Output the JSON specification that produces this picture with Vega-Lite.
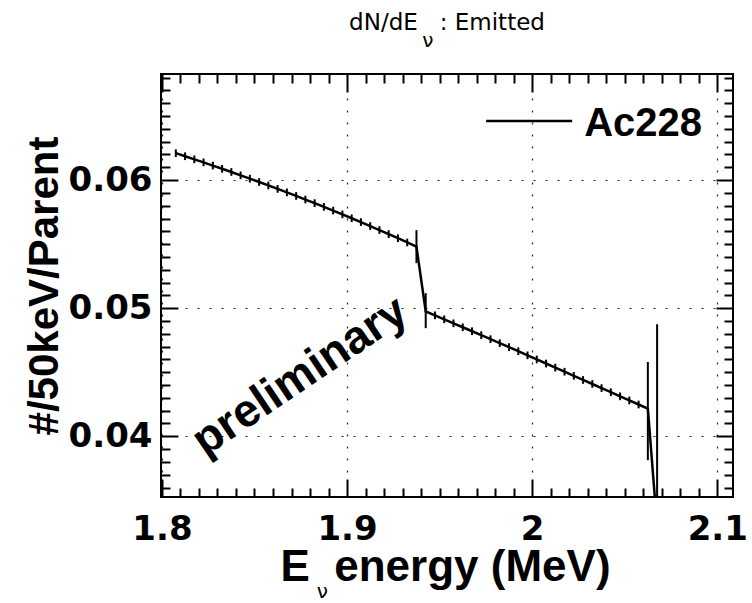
{
  "$schema": "https://vega.github.io/schema/vega-lite/v6.json",
  "width": 572,
  "height": 423,
  "autosize": {"type": "none"},
  "padding": {"left": 161, "top": 74, "right": 19, "bottom": 106},
  "background": "white",
  "config": {"view": {"stroke": "black", "strokeWidth": 2}, "font": "DejaVu Sans"},
  "title": {
    "text": "dN/dE\u00a0\u00a0\u00a0: Emitted",
    "subtitle": "ν\u00a0\u00a0\u00a0\u00a0\u00a0\u00a0\u200b",
    "fontSize": 23,
    "font": "DejaVu Sans",
    "fontWeight": "normal",
    "color": "black",
    "subtitleFontSize": 20,
    "subtitleFont": "DejaVu Sans",
    "subtitleColor": "black",
    "subtitlePadding": -4,
    "anchor": "middle",
    "frame": "group",
    "offset": 22
  },
  "data": {
    "values": [
      {"E": 1.8075, "N": 0.06210, "lo": 0.06180, "hi": 0.06240},
      {"E": 1.8125, "N": 0.06186, "lo": 0.06156, "hi": 0.06216},
      {"E": 1.8175, "N": 0.06162, "lo": 0.06132, "hi": 0.06192},
      {"E": 1.8225, "N": 0.06138, "lo": 0.06108, "hi": 0.06168},
      {"E": 1.8275, "N": 0.06113, "lo": 0.06083, "hi": 0.06143},
      {"E": 1.8325, "N": 0.06088, "lo": 0.06058, "hi": 0.06118},
      {"E": 1.8375, "N": 0.06063, "lo": 0.06033, "hi": 0.06093},
      {"E": 1.8425, "N": 0.06037, "lo": 0.06007, "hi": 0.06067},
      {"E": 1.8475, "N": 0.06011, "lo": 0.05981, "hi": 0.06041},
      {"E": 1.8525, "N": 0.05985, "lo": 0.05955, "hi": 0.06015},
      {"E": 1.8575, "N": 0.05958, "lo": 0.05928, "hi": 0.05988},
      {"E": 1.8625, "N": 0.05931, "lo": 0.05901, "hi": 0.05961},
      {"E": 1.8675, "N": 0.05904, "lo": 0.05874, "hi": 0.05934},
      {"E": 1.8725, "N": 0.05876, "lo": 0.05846, "hi": 0.05906},
      {"E": 1.8775, "N": 0.05848, "lo": 0.05818, "hi": 0.05878},
      {"E": 1.8825, "N": 0.05820, "lo": 0.05790, "hi": 0.05850},
      {"E": 1.8875, "N": 0.05791, "lo": 0.05761, "hi": 0.05821},
      {"E": 1.8925, "N": 0.05762, "lo": 0.05732, "hi": 0.05792},
      {"E": 1.8975, "N": 0.05732, "lo": 0.05702, "hi": 0.05762},
      {"E": 1.9025, "N": 0.05702, "lo": 0.05672, "hi": 0.05732},
      {"E": 1.9075, "N": 0.05672, "lo": 0.05642, "hi": 0.05702},
      {"E": 1.9125, "N": 0.05641, "lo": 0.05611, "hi": 0.05671},
      {"E": 1.9175, "N": 0.05610, "lo": 0.05580, "hi": 0.05640},
      {"E": 1.9225, "N": 0.05578, "lo": 0.05548, "hi": 0.05608},
      {"E": 1.9275, "N": 0.05546, "lo": 0.05516, "hi": 0.05576},
      {"E": 1.9325, "N": 0.05513, "lo": 0.05483, "hi": 0.05543},
      {"E": 1.9375, "N": 0.05480, "lo": 0.05352, "hi": 0.05609},
      {"E": 1.9425, "N": 0.04975, "lo": 0.04844, "hi": 0.05117},
      {"E": 1.9475, "N": 0.04944, "lo": 0.04914, "hi": 0.04974},
      {"E": 1.9525, "N": 0.04913, "lo": 0.04883, "hi": 0.04943},
      {"E": 1.9575, "N": 0.04882, "lo": 0.04852, "hi": 0.04912},
      {"E": 1.9625, "N": 0.04851, "lo": 0.04821, "hi": 0.04881},
      {"E": 1.9675, "N": 0.04820, "lo": 0.04790, "hi": 0.04850},
      {"E": 1.9725, "N": 0.04789, "lo": 0.04759, "hi": 0.04819},
      {"E": 1.9775, "N": 0.04758, "lo": 0.04728, "hi": 0.04788},
      {"E": 1.9825, "N": 0.04727, "lo": 0.04697, "hi": 0.04757},
      {"E": 1.9875, "N": 0.04696, "lo": 0.04666, "hi": 0.04726},
      {"E": 1.9925, "N": 0.04664, "lo": 0.04634, "hi": 0.04694},
      {"E": 1.9975, "N": 0.04632, "lo": 0.04602, "hi": 0.04662},
      {"E": 2.0025, "N": 0.04600, "lo": 0.04570, "hi": 0.04630},
      {"E": 2.0075, "N": 0.04568, "lo": 0.04538, "hi": 0.04598},
      {"E": 2.0125, "N": 0.04536, "lo": 0.04506, "hi": 0.04566},
      {"E": 2.0175, "N": 0.04504, "lo": 0.04474, "hi": 0.04534},
      {"E": 2.0225, "N": 0.04472, "lo": 0.04442, "hi": 0.04502},
      {"E": 2.0275, "N": 0.04440, "lo": 0.04410, "hi": 0.04470},
      {"E": 2.0325, "N": 0.04408, "lo": 0.04378, "hi": 0.04438},
      {"E": 2.0375, "N": 0.04376, "lo": 0.04346, "hi": 0.04406},
      {"E": 2.0425, "N": 0.04344, "lo": 0.04314, "hi": 0.04374},
      {"E": 2.0475, "N": 0.04312, "lo": 0.04282, "hi": 0.04342},
      {"E": 2.0525, "N": 0.04280, "lo": 0.04250, "hi": 0.04310},
      {"E": 2.0575, "N": 0.04248, "lo": 0.04218, "hi": 0.04278},
      {"E": 2.0625, "N": 0.04216, "lo": 0.03813, "hi": 0.04580},
      {"E": 2.0675, "N": 0.03300, "lo": 0.01700, "hi": 0.04875}
    ]
  },
  "layer": [
    {
      "mark": {"type": "line", "color": "black", "strokeWidth": 2.5, "clip": true},
      "encoding": {
        "x": {
          "field": "E", "type": "quantitative",
          "scale": {"domain": [1.7995, 2.1085], "nice": false, "zero": false},
          "axis": {
            "orient": "bottom", "values": [1.8, 1.9, 2, 2.1], "format": "~g",
            "ticks": false,
            "labelFontSize": 34, "labelFont": "DejaVu Sans", "labelFontWeight": "bold", "labelColor": "black",
            "labelPadding": 15, "labelFlush": false, "labelOverlap": false, "labelBaseline": "top",
            "domain": false,
            "grid": true, "gridDash": [2, 10], "gridColor": "#222222", "gridWidth": 1.2,
            "title": "E\u00a0\u00a0energy (MeV)", "titleFontSize": 44, "titleFont": "Liberation Sans", "titleFontWeight": "bold", "titleColor": "black",
            "titleBaseline": "alphabetic", "titleAlign": "center", "titleX": 284, "titleY": 83
          }
        },
        "y": {
          "field": "N", "type": "quantitative",
          "scale": {"domain": [0.03526, 0.06828], "nice": false, "zero": false},
          "axis": {
            "orient": "left", "values": [0.04, 0.05, 0.06], "format": ".2f",
            "ticks": false,
            "labelFontSize": 34, "labelFont": "DejaVu Sans", "labelFontWeight": "bold", "labelColor": "black",
            "labelPadding": 9, "labelFlush": false, "labelOverlap": false, "labelBaseline": "middle",
            "domain": false,
            "grid": true, "gridDash": [2, 10], "gridColor": "#222222", "gridWidth": 1.2,
            "title": "#/50keV/Parent", "titleFontSize": 42, "titleFont": "Liberation Sans", "titleFontWeight": "bold", "titleColor": "black",
            "titleAngle": -90, "titleBaseline": "alphabetic", "titleAlign": "center", "titleX": -104, "titleY": 211.5
          }
        }
      }
    },
    {
      "mark": {"type": "rule", "color": "black", "strokeWidth": 2, "clip": true},
      "encoding": {
        "x": {
          "field": "E", "type": "quantitative",
          "scale": {"domain": [1.7995, 2.1085], "nice": false, "zero": false},
          "axis": {
            "orient": "bottom", "ticks": true,
            "values": [1.81, 1.82, 1.83, 1.84, 1.85, 1.86, 1.87, 1.88, 1.89, 1.91, 1.92, 1.93, 1.94, 1.95, 1.96, 1.97, 1.98, 1.99, 2.01, 2.02, 2.03, 2.04, 2.05, 2.06, 2.07, 2.08, 2.09],
            "tickSize": -9, "tickWidth": 2, "tickColor": "black",
            "labels": false, "domain": false, "grid": false, "title": null
          }
        },
        "y": {
          "field": "lo", "type": "quantitative",
          "scale": {"domain": [0.03526, 0.06828], "nice": false, "zero": false},
          "axis": {
            "orient": "left", "ticks": true,
            "values": [0.036, 0.037, 0.038, 0.039, 0.041, 0.042, 0.043, 0.044, 0.045, 0.046, 0.047, 0.048, 0.049, 0.051, 0.052, 0.053, 0.054, 0.055, 0.056, 0.057, 0.058, 0.059, 0.061, 0.062, 0.063, 0.064, 0.065, 0.066, 0.067, 0.068],
            "tickSize": -9, "tickWidth": 2, "tickColor": "black",
            "labels": false, "domain": false, "grid": false, "title": null
          }
        },
        "y2": {"field": "hi"}
      }
    },
    {
      "mark": {"type": "point", "opacity": 0},
      "encoding": {
        "x": {
          "field": "E", "type": "quantitative",
          "scale": {"domain": [1.7995, 2.1085], "nice": false, "zero": false},
          "axis": {
            "orient": "top", "values": [1.8, 1.9, 2, 2.1], "ticks": true,
            "tickSize": -18, "tickWidth": 2, "tickColor": "black",
            "labels": false, "domain": false, "grid": false, "title": null
          }
        },
        "y": {
          "field": "N", "type": "quantitative",
          "scale": {"domain": [0.03526, 0.06828], "nice": false, "zero": false},
          "axis": {
            "orient": "right", "values": [0.04, 0.05, 0.06], "ticks": true,
            "tickSize": -17, "tickWidth": 2, "tickColor": "black",
            "labels": false, "domain": false, "grid": false, "title": null
          }
        }
      }
    },
    {
      "mark": {"type": "point", "opacity": 0},
      "encoding": {
        "x": {
          "field": "E", "type": "quantitative",
          "scale": {"domain": [1.7995, 2.1085], "nice": false, "zero": false},
          "axis": {
            "orient": "top", "ticks": true,
            "values": [1.81, 1.82, 1.83, 1.84, 1.85, 1.86, 1.87, 1.88, 1.89, 1.91, 1.92, 1.93, 1.94, 1.95, 1.96, 1.97, 1.98, 1.99, 2.01, 2.02, 2.03, 2.04, 2.05, 2.06, 2.07, 2.08, 2.09],
            "tickSize": -9, "tickWidth": 2, "tickColor": "black",
            "labels": false, "domain": false, "grid": false, "title": null
          }
        },
        "y": {
          "field": "N", "type": "quantitative",
          "scale": {"domain": [0.03526, 0.06828], "nice": false, "zero": false},
          "axis": {
            "orient": "right", "ticks": true,
            "values": [0.036, 0.037, 0.038, 0.039, 0.041, 0.042, 0.043, 0.044, 0.045, 0.046, 0.047, 0.048, 0.049, 0.051, 0.052, 0.053, 0.054, 0.055, 0.056, 0.057, 0.058, 0.059, 0.061, 0.062, 0.063, 0.064, 0.065, 0.066, 0.067, 0.068],
            "tickSize": -9, "tickWidth": 2, "tickColor": "black",
            "labels": false, "domain": false, "grid": false, "title": null
          }
        }
      }
    },
    {
      "mark": {"type": "point", "opacity": 0},
      "encoding": {
        "x": {
          "field": "E", "type": "quantitative",
          "scale": {"domain": [1.7995, 2.1085], "nice": false, "zero": false},
          "axis": {
            "orient": "bottom", "values": [1.8, 1.9, 2, 2.1], "ticks": true,
            "tickSize": -18, "tickWidth": 2, "tickColor": "black",
            "labels": false, "domain": false, "grid": false, "title": null
          }
        },
        "y": {
          "field": "N", "type": "quantitative",
          "scale": {"domain": [0.03526, 0.06828], "nice": false, "zero": false},
          "axis": {
            "orient": "left", "values": [0.04, 0.05, 0.06], "ticks": true,
            "tickSize": -17, "tickWidth": 2, "tickColor": "black",
            "labels": false, "domain": false, "grid": false, "title": null
          }
        }
      }
    },
    {
      "transform": [{"filter": {"field": "E", "equal": 1.8075}}],
      "mark": {"type": "rule", "color": "black", "strokeWidth": 2.5},
      "encoding": {
        "x": {"datum": 1.97514, "type": "quantitative", "scale": {"domain": [1.7995, 2.1085], "nice": false, "zero": false}, "axis": null},
        "x2": {"datum": 2.02162},
        "y": {"datum": 0.06461, "type": "quantitative", "scale": {"domain": [0.03526, 0.06828], "nice": false, "zero": false}, "axis": null}
      }
    },
    {
      "transform": [{"filter": {"field": "E", "equal": 1.8075}}],
      "mark": {"type": "text", "text": "Ac228", "color": "black", "font": "Liberation Sans", "fontWeight": "bold", "fontSize": 40, "align": "left", "baseline": "alphabetic"},
      "encoding": {
        "x": {"datum": 2.02811, "type": "quantitative", "scale": {"domain": [1.7995, 2.1085], "nice": false, "zero": false}, "axis": null},
        "y": {"datum": 0.06344, "type": "quantitative", "scale": {"domain": [0.03526, 0.06828], "nice": false, "zero": false}, "axis": null}
      }
    },
    {
      "transform": [{"filter": {"field": "E", "equal": 1.8075}}],
      "mark": {"type": "text", "text": "preliminary", "color": "black", "font": "Liberation Sans", "fontWeight": "bold", "fontSize": 46, "align": "center", "baseline": "middle", "angle": -34},
      "encoding": {
        "x": {"datum": 1.8746, "type": "quantitative", "scale": {"domain": [1.7995, 2.1085], "nice": false, "zero": false}, "axis": null},
        "y": {"datum": 0.0447, "type": "quantitative", "scale": {"domain": [0.03526, 0.06828], "nice": false, "zero": false}, "axis": null}
      }
    },
    {
      "transform": [{"filter": {"field": "E", "equal": 1.8075}}],
      "mark": {"type": "text", "text": "ν", "color": "black", "font": "DejaVu Sans", "fontWeight": "normal", "fontSize": 20, "align": "center", "baseline": "alphabetic"},
      "encoding": {
        "x": {"datum": 1.8866, "type": "quantitative", "scale": {"domain": [1.7995, 2.1085], "nice": false, "zero": false}, "axis": null},
        "y": {"datum": 0.0274, "type": "quantitative", "scale": {"domain": [0.03526, 0.06828], "nice": false, "zero": false}, "axis": null}
      }
    }
  ],
  "resolve": {"axis": {"x": "independent", "y": "independent"}}
}
